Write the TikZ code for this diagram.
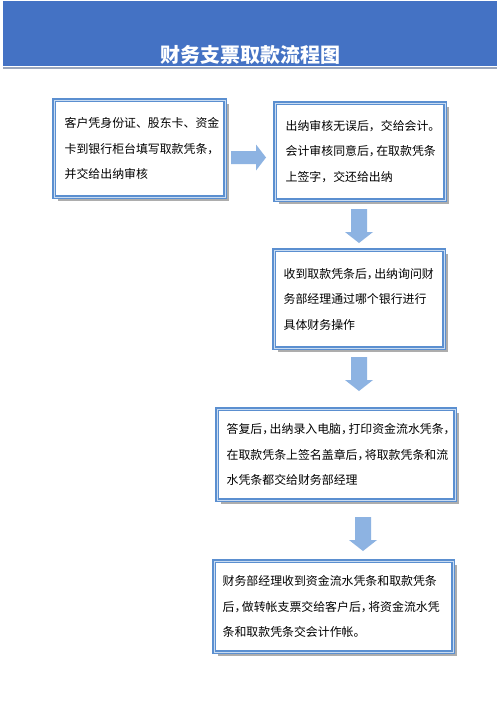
\documentclass[tikz,border=0pt]{standalone}
\usepackage{fontspec}
\setmainfont{Noto Sans CJK SC}
\usetikzlibrary{shadows}
\definecolor{headblue}{HTML}{4472C4}
\definecolor{headline}{HTML}{9AA6BC}
\definecolor{boxblue}{HTML}{5B8FD0}
\definecolor{boxlight}{HTML}{C9DCF2}
\definecolor{arrowblue}{HTML}{8DB3E2}
\definecolor{shadowgray}{HTML}{ADADAD}
\newcommand{\cm}{\makebox[0.62em][l]{，}}
\tikzset{
  stepbox/.style={rectangle, draw=boxblue, line width=1.1pt, double=boxlight,
    double distance=1pt, fill=white, inner sep=0pt,
    general shadow={fill=shadowgray, shadow xshift=3.5pt, shadow yshift=-3.5pt}},
  txt/.style={align=left, inner sep=0pt, anchor=west, text=black,
    font=\fontsize{11.9pt}{25.5pt}\selectfont},
  downarrow/.pic={\fill[arrowblue] (-8,0) -- (8,0) -- (8,23) -- (14,23) -- (0,34)
    -- (-14,23) -- (-8,23) -- cycle;},
  rightarrow/.pic={\fill[arrowblue] (0,-6.5) -- (25,-6.5) -- (25,-13) -- (35,0)
    -- (25,13) -- (25,6.5) -- (0,6.5) -- cycle;}
}
\begin{document}
\begin{tikzpicture}[x=1pt,y=-1pt]
\useasboundingbox (0,0) rectangle (500,707);
\fill[white] (0,0) rectangle (500,707);
% header
\fill[headblue] (3,1) rectangle (497,66);
\draw[headline, line width=1.6pt] (3,68) -- (497,68);
\node[text=white, font=\fontsize{20pt}{24pt}\selectfont\bfseries, inner sep=0pt] (title) at (250,55) {财务支票取款流程图};
% boxes
\node[stepbox, minimum width=171pt, minimum height=97pt] (b1) at (139.5,148.5) {};
\node[stepbox, minimum width=170pt, minimum height=97pt] (b2) at (360,151.5) {};
\node[stepbox, minimum width=170pt, minimum height=98pt] (b3) at (359,299) {};
\node[stepbox, minimum width=238pt, minimum height=91pt] (b4) at (336,454.5) {};
\node[stepbox, minimum width=239pt, minimum height=91pt] (b5) at (333.5,606.5) {};
% texts
\node[txt] (t1) at ([xshift=11pt]b1.west) {客户凭身份证、股东卡、资金\\卡到银行柜台填写取款凭条，\\并交给出纳审核};
\node[txt] (t2) at ([xshift=11pt]b2.west) {出纳审核无误后，交给会计。\\会计审核同意后\cm 在取款凭条\\上签字，交还给出纳};
\node[txt] (t3) at ([xshift=10pt]b3.west) {收到取款凭条后\cm 出纳询问财\\务部经理通过哪个银行进行\\具体财务操作};
\node[txt] (t4) at ([xshift=10pt]b4.west) {答复后\cm 出纳录入电脑\cm 打印资金流水凭条，\\在取款凭条上签名盖章后\cm 将取款凭条和流\\水凭条都交给财务部经理};
\node[txt] (t5) at ([xshift=9pt]b5.west) {财务部经理收到资金流水凭条和取款凭条\\后\cm 做转帐支票交给客户后\cm 将资金流水凭\\条和取款凭条交会计作帐。};
% arrows
\pic (a0) at (231,157.5) {rightarrow};
\pic (a1) at (359,209) {downarrow};
\pic (a2) at (359,357) {downarrow};
\pic (a3) at (363,517) {downarrow};
\end{tikzpicture}
\end{document}
